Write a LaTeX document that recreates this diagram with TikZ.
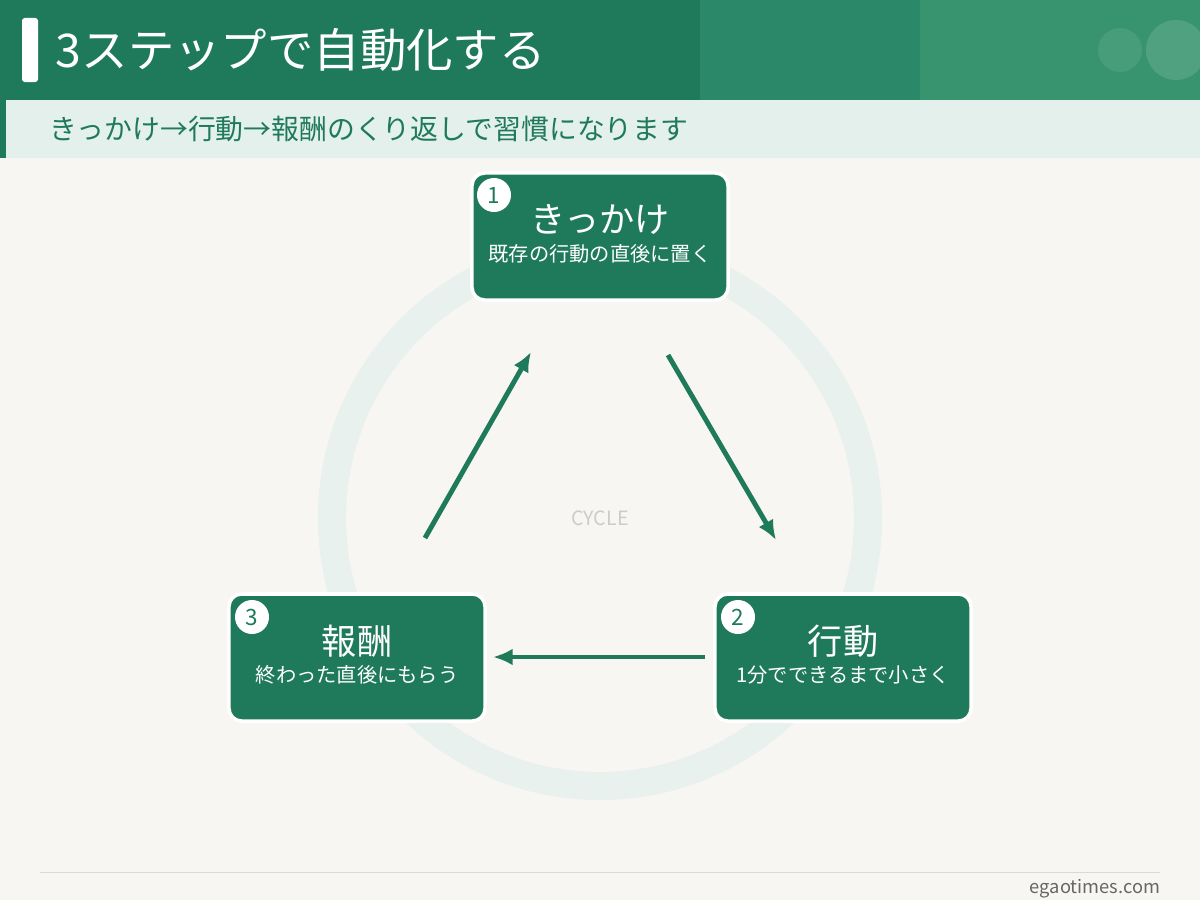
\documentclass[tikz,border=0pt]{standalone}
\usepackage{fontspec}
\setmainfont{Noto Sans CJK JP}
\usetikzlibrary{positioning,arrows.meta}
\definecolor{darkgreen}{HTML}{1F7A5C}
\definecolor{midgreen}{HTML}{2B8868}
\definecolor{lightgreen}{HTML}{38946F}
\definecolor{paleband}{HTML}{E3F0EB}
\definecolor{paper}{HTML}{F7F6F2}
\definecolor{ring}{HTML}{E8F1EE}

\begin{document}
\begin{tikzpicture}[x=0.025cm,y=-0.025cm,
    stepBox/.style={%
        draw=white,
        line width=2.5pt,
        fill=darkgreen,
        rounded corners=9pt,
        minimum width=6.4cm,
        minimum height=3.175cm,
        text=white,
        align=center
    },
    badge/.style={%
        circle,
        fill=white,
        text=darkgreen,
        inner sep=0pt,
        minimum size=0.85cm,
        font=\fontsize{16}{16}\selectfont
    },
    flow/.style={%
        draw=darkgreen,
        line width=3.5pt,
        -{Latex[length=14pt,width=12pt]}
    },
    >=stealth
]
\useasboundingbox (0,0) rectangle (1200,900);

% Background and header
    \fill[paper] (0,0) rectangle (1200,900);
    \fill[darkgreen] (0,0) rectangle (700,100);
    \fill[midgreen] (700,0) rectangle (920,100);
    \fill[lightgreen] (920,0) rectangle (1200,100);
    \fill[white,opacity=0.08] (1120,50) circle (22);
    \fill[white,opacity=0.12] (1176,50) circle (30);
    \fill[white,rounded corners=2pt] (22,18) rectangle (38,82);
    \node[anchor=west,text=white,font=\fontsize{33}{33}\selectfont] (title) at (51,50) {3ステップで自動化する};
    \fill[paleband] (0,100) rectangle (1200,158);
    \fill[darkgreen] (0,100) rectangle (6,158);
    \node[anchor=west,text=darkgreen,font=\fontsize{19.8}{20}\selectfont] (subtitle) at (45,129) {きっかけ→行動→報酬のくり返しで習慣になります};

% Cycle ring
    \draw[ring,line width=20pt] (600,518) circle (268);
    \node[text=black!20,font=\fontsize{14}{14}\selectfont] (cycle) at (600,518) {CYCLE};

% Steps
    \node[stepBox] (cue) at (600,236.5) {};
    \node[stepBox] (action) at (843,657.5) {};
    \node[stepBox] (reward) at (357,657.5) {};

    \node[font=\fontsize{25}{25}\selectfont,text=white] (cueTitle) at (600,220) {きっかけ};
    \node[font=\fontsize{14.4}{14}\selectfont,text=white] (cueText) at (600,254) {既存の行動の直後に置く};
    \node[font=\fontsize{25}{25}\selectfont,text=white] (actionTitle) at (843,641) {行動};
    \node[font=\fontsize{14.4}{14}\selectfont,text=white] (actionText) at (843,675) {1分でできるまで小さく};
    \node[font=\fontsize{25}{25}\selectfont,text=white] (rewardTitle) at (357,641) {報酬};
    \node[font=\fontsize{14.4}{14}\selectfont,text=white] (rewardText) at (357,675) {終わった直後にもらう};

    \node[badge] (badge1) at (494,195) {1};
    \node[badge] (badge2) at (738,617) {2};
    \node[badge] (badge3) at (252,617) {3};

% Arrows
    \coordinate (cueOut) at (668,355);
    \coordinate (actionIn) at (776,540);
    \coordinate (actionOut) at (705,657);
    \coordinate (rewardIn) at (493,657);
    \coordinate (rewardOut) at (425,538);
    \coordinate (cueIn) at (531,352);
\draw[flow] (cueOut) -- (actionIn);
\draw[flow] (actionOut) -- (rewardIn);
\draw[flow] (rewardOut) -- (cueIn);

% Footer
    \coordinate (ruleL) at (40,872);
    \coordinate (ruleR) at (1160,872);
\draw[black!15,line width=0.7pt] (ruleL) -- (ruleR);
    \node[anchor=east,text=black!60,font=\fontsize{13}{13}\selectfont] (site) at (1165,889) {egaotimes.com};

\end{tikzpicture}
\end{document}
